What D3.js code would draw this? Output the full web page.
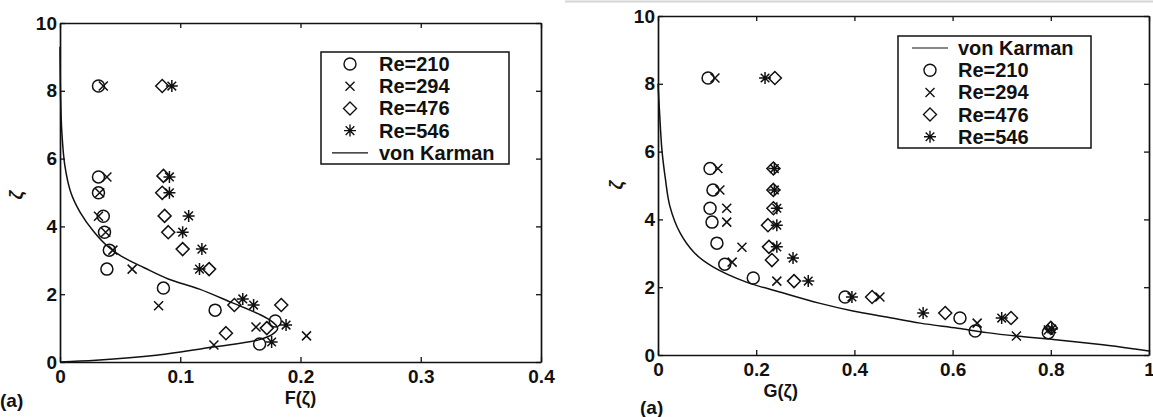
<!DOCTYPE html>
<html>
<head>
<meta charset="utf-8">
<script src="https://cdn.jsdelivr.net/npm/d3@7"></script>
<style>
  body { margin: 0; background: #fff; }
  svg { display: block; }
  text { font-family: "Liberation Sans", Arial, sans-serif; fill: #111; }
</style>
</head>
<body>
<script>
// series names and tick labels
var seriesNames = ["Re=210", "Re=294", "Re=476", "Re=546"];
var lineName = "von Karman";
var yTicks = [0, 2, 4, 6, 8, 10];
var xTicksF = [0, 0.1, 0.2, 0.3, 0.4];
var xTicksG = [0, 0.2, 0.4, 0.6, 0.8, 1];

// panel (a) left: F(zeta) -- [F, zeta]
var fRe210 = [[0.032,8.14],[0.032,5.46],[0.032,4.99],[0.036,4.30],[0.037,3.83],[0.041,3.30],[0.039,2.74],[0.086,2.18],[0.129,1.53],[0.179,1.21],[0.166,0.53]];
var fRe294 = [[0.036,8.14],[0.039,5.46],[0.033,4.99],[0.032,4.30],[0.038,3.83],[0.044,3.30],[0.060,2.74],[0.082,1.66],[0.128,0.50],[0.163,1.03],[0.205,0.77]];
var fRe476 = [[0.085,8.14],[0.086,5.49],[0.085,4.99],[0.087,4.31],[0.090,3.83],[0.102,3.33],[0.124,2.74],[0.145,1.68],[0.184,1.68],[0.138,0.85],[0.172,1.00]];
var fRe546 = [[0.093,8.14],[0.091,5.46],[0.091,4.99],[0.107,4.31],[0.102,3.83],[0.118,3.33],[0.116,2.74],[0.152,1.86],[0.161,1.68],[0.188,1.09],[0.176,0.59]];
var fKarman = [[0,0],[0.030,0.05],[0.080,0.20],[0.127,0.44],[0.166,0.66],[0.178,0.85],[0.181,1.00],[0.176,1.20],[0.165,1.42],[0.143,1.75],[0.116,2.15],[0.090,2.45],[0.070,2.78],[0.052,3.10],[0.040,3.40],[0.028,3.85],[0.017,4.40],[0.009,5.00],[0.004,5.80],[0.0015,6.80],[0.0005,7.80],[0,9.3]];

// panel (a) right: G(zeta) -- [G, zeta]
var gRe210 = [[0.102,8.17],[0.106,5.50],[0.112,4.87],[0.106,4.33],[0.110,3.92],[0.120,3.30],[0.136,2.68],[0.194,2.27],[0.381,1.71],[0.615,1.09],[0.646,0.71],[0.795,0.66]];
var gRe294 = [[0.116,8.17],[0.122,5.50],[0.126,4.87],[0.140,4.33],[0.140,3.92],[0.171,3.18],[0.151,2.74],[0.242,2.18],[0.452,1.71],[0.650,0.94],[0.730,0.56],[0.795,0.74]];
var gRe476 = [[0.238,8.17],[0.235,5.50],[0.235,4.87],[0.235,4.33],[0.224,3.83],[0.226,3.19],[0.232,2.80],[0.277,2.18],[0.436,1.71],[0.585,1.24],[0.719,1.09],[0.800,0.80]];
var gRe546 = [[0.218,8.17],[0.237,5.50],[0.237,4.87],[0.242,4.33],[0.242,3.83],[0.242,3.19],[0.275,2.86],[0.306,2.18],[0.395,1.71],[0.540,1.24],[0.700,1.09],[0.802,0.77]];
var gKarman = [[0,8.0],[0.003,7.2],[0.008,6.05],[0.015,5.2],[0.024,4.4],[0.045,3.6],[0.075,3.0],[0.112,2.6],[0.18,2.15],[0.25,1.85],[0.328,1.53],[0.397,1.30],[0.466,1.12],[0.534,0.94],[0.61,0.79],[0.67,0.66],[0.73,0.56],[0.805,0.46],[0.906,0.30],[0.975,0.17],[1.0,0.12]];

var W = 1153, H = 417;
var svg = d3.select("body").append("svg")
            .attr("width", W)
            .attr("height", H);

// scan separator line at top right
svg.append("line")
   .attr("x1", 565).attr("x2", W).attr("y1", 1.5).attr("y2", 1.5)
   .style("stroke", "#d4d4d4").style("stroke-width", 2);

// marker shapes
function marker(kind) {
    if (kind == 0) return "M6,0A6,6 0 1,1 -6,0A6,6 0 1,1 6,0Z";
    if (kind == 1) return "M-4.5,-4.5L4.5,4.5M-4.5,4.5L4.5,-4.5";
    if (kind == 2) return "M0,-6.5L6.5,0L0,6.5L-6.5,0Z";
    return "M0,-6L0,6M-6,0L6,0M-4.3,-4.3L4.3,4.3M-4.3,4.3L4.3,-4.3";
}

function drawPanel(p) {
    var x = d3.scaleLinear().domain(p.xDomain).range([p.left, p.right]);
    var y = d3.scaleLinear().domain([0, 10]).range([p.bottom, p.top]);
    var g = svg.append("g");

    // inward ticks on all four sides
    g.append("g").attr("transform", "translate(0," + p.bottom + ")")
     .call(d3.axisBottom(x).tickValues(p.xTicks).tickSizeInner(-5).tickSizeOuter(0).tickPadding(8).tickFormat(d3.format("")))
     .call(styleAxis);
    g.append("g").attr("transform", "translate(0," + p.top + ")")
     .call(d3.axisTop(x).tickValues(p.xTicks).tickSizeInner(-5).tickSizeOuter(0).tickFormat(""))
     .call(styleAxis);
    g.append("g").attr("transform", "translate(" + p.left + ",0)")
     .call(d3.axisLeft(y).tickValues(yTicks).tickSizeInner(-5).tickSizeOuter(0).tickPadding(3))
     .call(styleAxis);
    g.append("g").attr("transform", "translate(" + p.right + ",0)")
     .call(d3.axisRight(y).tickValues(yTicks).tickSizeInner(-5).tickSizeOuter(0).tickFormat(""))
     .call(styleAxis);

    // von Karman curve
    var line = d3.line()
                 .x(function(d) { return x(d[0]); })
                 .y(function(d) { return y(d[1]); })
                 .curve(d3.curveCatmullRom);
    g.append("path")
     .datum(p.curve)
     .attr("d", line)
     .style("fill", "none")
     .style("stroke", "#111")
     .style("stroke-width", 1.5);

    // measured points
    p.series.forEach(function(s, i) {
        g.selectAll(".m" + i)
         .data(s)
         .enter()
         .append("path")
         .attr("class", "m" + i)
         .attr("transform", function(d) { return "translate(" + x(d[0]) + "," + y(d[1]) + ")"; })
         .attr("d", marker(i))
         .style("fill", "none")
         .style("stroke", "#111")
         .style("stroke-width", 1.5);
    });

    // axis labels
    g.append("text")
     .attr("x", x(p.xLabelAt)).attr("y", p.bottom + 42)
     .style("text-anchor", "middle")
     .style("font-size", "18px")
     .style("font-weight", "bold")
     .text(p.xLabel);
    g.append("text")
     .attr("transform", "translate(" + p.yLabelX + "," + p.yLabelY + ") rotate(-90)")
     .style("text-anchor", "middle")
     .style("font-size", "18px")
     .style("font-style", "italic")
     .style("font-weight", "bold")
     .text("\u03B6");
    g.append("text")
     .attr("x", p.tagX).attr("y", p.tagY)
     .style("font-size", "19px")
     .style("font-weight", "bold")
     .text("(a)");

    // legend
    var lg = g.append("g").attr("transform", "translate(" + p.legend[0] + "," + p.legend[1] + ")");
    lg.append("rect")
      .attr("width", p.legend[2]).attr("height", p.legend[3])
      .style("fill", "#fff").style("stroke", "#111").style("stroke-width", 1.5);
    p.legendOrder.forEach(function(k, row) {
        var cy = 12 + row * 22.2;
        if (k < 0) {
            lg.append("line")
              .attr("x1", p.legendSym - 18).attr("x2", p.legendSym + 18)
              .attr("y1", cy).attr("y2", cy)
              .style("stroke", "#111").style("stroke-width", 1.2);
        } else {
            lg.append("path")
              .attr("transform", "translate(" + p.legendSym + "," + cy + ")")
              .attr("d", marker(k))
              .style("fill", "none").style("stroke", "#111").style("stroke-width", 1.4);
        }
        lg.append("text")
          .attr("x", p.legendText).attr("y", cy + 7)
          .style("font-size", "20px")
          .style("font-weight", "bold")
          .text(k < 0 ? lineName : seriesNames[k]);
    });
}

function styleAxis(sel) {
    sel.select(".domain").style("stroke", "#111").style("stroke-width", 1.7);
    sel.selectAll(".tick line").style("stroke", "#111").style("stroke-width", 1.3);
    sel.selectAll(".tick text")
       .style("font-family", "'Liberation Sans', Arial, sans-serif")
       .style("font-size", "19px")
       .style("font-weight", "bold")
       .style("fill", "#111");
}

drawPanel({
    xDomain: [0, 0.4], xTicks: xTicksF,
    left: 60, right: 541, top: 23, bottom: 362,
    series: [fRe210, fRe294, fRe476, fRe546], curve: fKarman,
    xLabel: "F(\u03B6)", xLabelAt: 0.2,
    yLabelX: 22, yLabelY: 195, tagX: 0, tagY: 407,
    legend: [321, 52, 188, 112], legendSym: 29, legendText: 58,
    legendOrder: [0, 1, 2, 3, -1]
});

drawPanel({
    xDomain: [0, 1], xTicks: xTicksG,
    left: 658, right: 1149, top: 16, bottom: 355,
    series: [gRe210, gRe294, gRe476, gRe546], curve: gKarman,
    xLabel: "G(\u03B6)", xLabelAt: 0.25,
    yLabelX: 622, yLabelY: 185, tagX: 640, tagY: 414,
    legend: [898, 36, 193, 112], legendSym: 32, legendText: 60,
    legendOrder: [-1, 0, 1, 2, 3]
});
</script>
</body>
</html>
